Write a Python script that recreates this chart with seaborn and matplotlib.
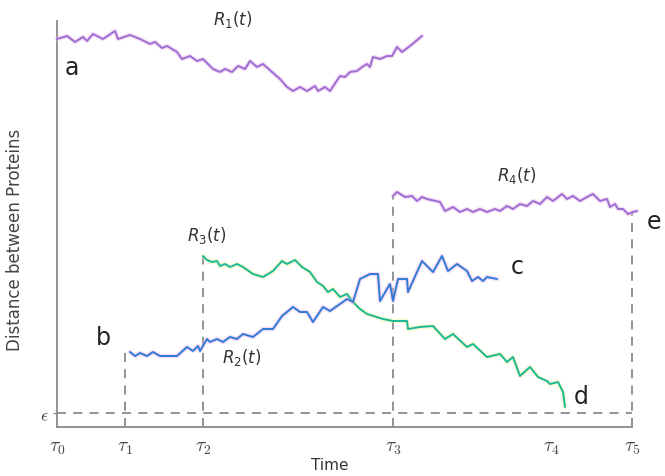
import numpy as np
import pandas as pd
import matplotlib.pyplot as plt
import matplotlib.patheffects as pe
import seaborn as sns

sns.set_theme(style="white")

# event times and threshold
tau = [0, 68, 146, 336, 494, 575]
tau_labels = [r"$\tau_0$", r"$\tau_1$", r"$\tau_2$", r"$\tau_3$", r"$\tau_4$", r"$\tau_5$"]
eps = 14

# distance trajectories (time, distance)
r1_t = [0, 10, 18, 26, 30, 36, 46, 58, 61, 73, 83, 93, 98, 105, 110, 120, 125, 133, 140, 146,
        156, 163, 168, 175, 181, 188, 193, 200, 206, 215, 223, 230, 236, 243, 250, 258, 261, 268,
        273, 283, 288, 293, 300, 305, 310, 313, 316, 323, 330, 335, 340, 345, 353, 365]
r1_d = [388, 391, 385, 390, 386, 393, 388, 396, 388, 392, 388, 383, 385, 379, 381, 375, 368, 371,
        366, 368, 358, 355, 358, 355, 361, 358, 366, 360, 363, 355, 348, 340, 336, 340, 336, 341,
        336, 340, 336, 351, 350, 355, 356, 360, 363, 360, 370, 368, 371, 371, 380, 375, 381, 391]

r2_t = [73, 78, 83, 90, 96, 103, 120, 130, 136, 141, 143, 150, 153, 160, 166, 173, 180, 186, 196,
        206, 216, 225, 236, 243, 250, 256, 266, 273, 283, 290, 296, 303, 313, 321, 323, 330, 333,
        336, 341, 350, 351, 365, 376, 385, 391, 400, 410, 415, 421, 426, 430, 440]
r2_d = [75, 71, 74, 71, 75, 71, 71, 80, 76, 81, 76, 88, 85, 88, 85, 90, 88, 93, 90, 98, 98, 111,
        120, 115, 115, 105, 120, 116, 123, 128, 125, 148, 153, 153, 126, 138, 143, 126, 148, 148,
        135, 166, 155, 171, 156, 163, 156, 146, 150, 146, 150, 148]

r3_t = [146, 150, 155, 160, 163, 168, 173, 180, 186, 196, 206, 216, 225, 230, 238, 245, 253, 260,
        266, 271, 276, 283, 290, 296, 303, 310, 326, 336, 350, 351, 363, 376, 388, 396, 410, 416,
        430, 443, 450, 456, 463, 473, 481, 490, 493, 501, 506, 508]
r3_d = [171, 167, 165, 166, 161, 163, 160, 163, 160, 153, 150, 156, 166, 163, 167, 160, 155, 145,
        141, 135, 138, 130, 133, 125, 118, 113, 108, 106, 106, 98, 100, 101, 88, 93, 80, 83, 70,
        73, 65, 70, 51, 60, 50, 46, 43, 45, 35, 20]

r4_t = [336, 340, 348, 355, 360, 365, 370, 383, 388, 396, 403, 410, 416, 423, 430, 438, 443, 450,
        456, 463, 470, 476, 483, 490, 496, 505, 510, 516, 523, 530, 536, 543, 550, 553, 558, 561,
        566, 571, 576, 580]
r4_d = [231, 235, 230, 231, 226, 230, 228, 225, 216, 220, 215, 218, 215, 218, 215, 218, 216, 221,
        218, 223, 221, 226, 223, 230, 226, 233, 228, 231, 226, 230, 233, 226, 228, 220, 223, 218,
        218, 213, 215, 216]

purple, blue, green = "#9b6fd2", "#2f7bd6", "#1ab89a"
gray = "#8a8a8a"

fig = plt.figure(figsize=(6.65, 4.77), dpi=100)
ax = fig.add_axes([57 / 665, 49 / 477, 582 / 665, 406 / 477])


def walk(t, d, color, halo):
    df = pd.DataFrame({"t": t, "d": d})
    sns.lineplot(data=df, x="t", y="d", sort=False, color=color, lw=1.4, ax=ax,
                 path_effects=[pe.Stroke(linewidth=3.2, foreground=halo, alpha=0.45), pe.Normal()],
                 clip_on=False, zorder=3)


walk(r1_t, r1_d, purple, "#f0b0e8")
walk(r4_t, r4_d, purple, "#f0b0e8")
walk(r3_t, r3_d, green, "#f2ef8a")
walk(r2_t, r2_d, blue, "#f2b0e6")

# dashed guides
dash = dict(color=gray, lw=1.3, ls=(0, (5, 4)), zorder=1)
ax.plot([0, tau[5]], [eps, eps], **dash)
ax.plot([tau[1], tau[1]], [0, r2_d[0]], **dash)
ax.plot([tau[2], tau[2]], [0, r3_d[0]], **dash)
ax.plot([tau[3], tau[3]], [0, r4_d[0]], **dash)
ax.plot([tau[5], tau[5]], [0, np.interp(tau[5], r4_t, r4_d)], **dash)

# annotations
lab = dict(fontsize=12, color="#333333", ha="center", va="center")
ax.text(176, 408, r"$R_1(t)$", **lab)
ax.text(150, 192, r"$R_3(t)$", **lab)
ax.text(185, 71, r"$R_2(t)$", **lab)
ax.text(460, 253, r"$R_4(t)$", **lab)
let = dict(fontsize=17, color="#222222", ha="center", va="center")
ax.text(15, 360, "a", **let)
ax.text(46, 90, "b", **let)
ax.text(460, 161, "c", **let)
ax.text(524, 31, "d", **let)
ax.text(597, 206, "e", **let)

ax.set_xlim(0, 582)
ax.set_ylim(0, 406)
ax.set_xticks(tau)
ax.set_xticklabels(tau_labels, fontsize=14, color="#444444", math_fontfamily="cm")
ax.set_yticks([eps])
ax.set_yticklabels([r"$\epsilon$"], fontsize=13, color="#444444", math_fontfamily="cm")
ax.tick_params(axis="x", length=0, pad=7)
ax.tick_params(axis="y", length=3, width=1, color=gray, pad=3, left=True)

for s in ["top", "right"]:
    ax.spines[s].set_visible(False)
for s in ["left", "bottom"]:
    ax.spines[s].set_color(gray)
    ax.spines[s].set_linewidth(1.3)
ax.spines["bottom"].set_bounds(0, tau[5])

ax.set_xlabel("Time", fontsize=11, color="#333333")
ax.set_ylabel("Distance between Proteins", fontsize=12, color="#444444")
ax.xaxis.set_label_coords((330 - 57) / 582, -0.075)
ax.yaxis.set_label_coords(-0.057, 0.463)

fig.savefig("out.png", dpi=100)
